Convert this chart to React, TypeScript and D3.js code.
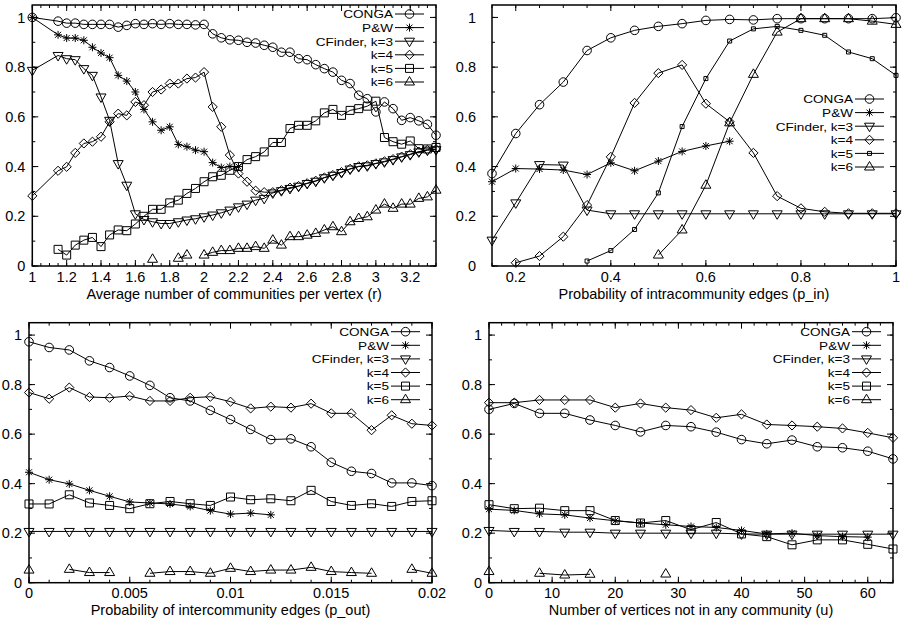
import React, { useEffect, useRef } from 'react';
import * as d3 from 'd3';

const seriesNames = ['CONGA', 'P&W', 'CFinder, k=3', 'k=4', 'k=5', 'k=6'];
const markerTypes = ['circle', 'star', 'triDown', 'diamond', 'square', 'triUp'];

const yTicks = [0, 0.2, 0.4, 0.6, 0.8, 1];
const yTickLabels = ['0', '0.2', '0.4', '0.6', '0.8', '1'];

// panel 1: average number of communities per vertex
const rValues = [1, 1.15, 1.2, 1.25, 1.3, 1.35, 1.4, 1.45, 1.5, 1.55, 1.6, 1.65, 1.7, 1.75, 1.8, 1.85,
  1.9, 1.95, 2.0, 2.05, 2.1, 2.15, 2.2, 2.25, 2.3, 2.35, 2.4, 2.45, 2.5, 2.55, 2.6, 2.65, 2.7, 2.75,
  2.8, 2.85, 2.9, 2.95, 3.0, 3.05, 3.1, 3.15, 3.2, 3.25, 3.3, 3.35];
const rConga = [1.0, 0.985, 0.977, 0.977, 0.972, 0.972, 0.972, 0.972, 0.961, 0.968, 0.975, 0.972, 0.975,
  0.972, 0.975, 0.972, 0.972, 0.97, 0.972, 0.934, 0.918, 0.91, 0.908, 0.9, 0.897, 0.888, 0.88, 0.86, 0.86,
  0.834, 0.83, 0.81, 0.794, 0.78, 0.747, 0.734, 0.687, 0.673, 0.62, 0.66, 0.633, 0.586, 0.597, 0.584, 0.57, 0.526];
const rPW = [1.0, 0.93, 0.917, 0.917, 0.908, 0.88, 0.857, 0.838, 0.767, 0.744, 0.7, 0.63, 0.58, 0.546, 0.56,
  0.489, 0.48, 0.466, 0.46, 0.416, 0.396, 0.4, 0.4, null, null, null, null, null, null, null, null, null, null,
  null, null, null, null, null, null, null, null, null, null, null, null, null];
const rK3 = [0.787, 0.847, 0.834, 0.83, 0.794, 0.767, 0.68, 0.586, 0.412, 0.325, 0.21, 0.187, 0.178, 0.171,
  0.171, 0.178, 0.185, 0.19, 0.198, 0.205, 0.214, 0.225, 0.238, 0.249, 0.265, 0.272, 0.294, 0.303, 0.312,
  0.321, 0.332, 0.341, 0.355, 0.365, 0.376, 0.39, 0.4, 0.403, 0.412, 0.419, 0.428, 0.439, 0.448, 0.459, 0.466, 0.468];
const rK4 = [0.282, 0.383, 0.399, 0.455, 0.493, 0.5, 0.52, 0.58, 0.613, 0.606, 0.66, 0.647, 0.7, 0.71, 0.734,
  0.734, 0.754, 0.758, 0.78, 0.64, 0.56, 0.446, 0.372, 0.339, 0.303, 0.297, 0.297, 0.305, 0.315, 0.322, 0.333,
  0.343, 0.356, 0.366, 0.378, 0.391, 0.401, 0.405, 0.413, 0.421, 0.43, 0.44, 0.45, 0.46, 0.467, 0.47];
const rK5 = [null, 0.067, 0.044, 0.084, 0.104, 0.115, 0.078, 0.125, 0.145, 0.142, 0.169, 0.2, 0.228, 0.228,
  0.254, 0.265, 0.292, 0.312, 0.339, 0.359, 0.365, 0.385, 0.4, 0.428, 0.44, 0.459, 0.497, 0.497, 0.553, 0.566,
  0.566, 0.584, 0.616, 0.63, 0.606, 0.626, 0.633, 0.643, 0.663, 0.517, 0.5, 0.49, 0.503, 0.472, 0.471, 0.477];
const rK6 = [null, null, null, null, null, null, null, null, null, null, null, null, 0.027, null, null, 0.031,
  0.044, null, 0.044, 0.055, 0.062, 0.062, 0.071, 0.071, 0.078, 0.071, 0.104, 0.084, 0.118, 0.118, 0.124,
  0.131, 0.145, 0.158, 0.138, 0.178, 0.191, 0.198, 0.225, 0.249, 0.232, 0.249, 0.249, 0.272, 0.278, 0.305];
const rTicks = [1, 1.2, 1.4, 1.6, 1.8, 2, 2.2, 2.4, 2.6, 2.8, 3, 3.2];
const rTickLabels = ['1', '1.2', '1.4', '1.6', '1.8', '2', '2.2', '2.4', '2.6', '2.8', '3', '3.2'];

// panel 2: probability of intracommunity edges
const pinValues = [0.15, 0.2, 0.25, 0.3, 0.35, 0.4, 0.45, 0.5, 0.55, 0.6, 0.65, 0.7, 0.75, 0.8, 0.85, 0.9, 0.95, 1.0];
const pinConga = [0.372, 0.533, 0.649, 0.74, 0.867, 0.918, 0.948, 0.964, 0.975, 0.988, 0.992, 0.99, 0.995,
  0.995, 0.995, 0.995, 0.995, 0.999];
const pinPW = [0.339, 0.392, 0.39, 0.386, 0.368, 0.415, 0.383, 0.422, 0.461, 0.483, 0.502, null, null, null,
  null, null, null, null];
const pinK3 = [0.104, 0.254, 0.408, 0.406, 0.225, 0.21, 0.21, 0.21, 0.21, 0.21, 0.21, 0.21, 0.21, 0.21,
  0.21, 0.21, 0.21, 0.21];
const pinK4 = [null, 0.013, 0.04, 0.118, 0.245, 0.439, 0.656, 0.776, 0.809, 0.653, 0.58, 0.455, 0.281,
  0.232, 0.218, 0.212, 0.212, 0.212];
const pinK5 = [null, null, null, null, 0.02, 0.062, 0.147, 0.294, 0.561, 0.754, 0.905, 0.954, 0.964, 0.948,
  0.928, 0.861, 0.834, 0.767];
const pinK6 = [null, null, null, null, null, null, null, 0.044, 0.145, 0.325, 0.576, 0.771, 0.941, 0.995,
  0.995, 0.995, 0.985, 0.972];
const pinTicks = [0.2, 0.4, 0.6, 0.8, 1];
const pinTickLabels = ['0.2', '0.4', '0.6', '0.8', '1'];

// panel 3: probability of intercommunity edges
const poutValues = [0, 0.001, 0.002, 0.003, 0.004, 0.005, 0.006, 0.007, 0.008, 0.009, 0.01, 0.011, 0.012,
  0.013, 0.014, 0.015, 0.016, 0.017, 0.018, 0.019, 0.02];
const poutConga = [0.973, 0.95, 0.94, 0.896, 0.869, 0.835, 0.797, 0.747, 0.734, 0.696, 0.659, 0.619, 0.578,
  0.581, 0.549, 0.486, 0.45, 0.441, 0.403, 0.403, 0.392];
const poutPW = [0.446, 0.416, 0.399, 0.373, 0.349, 0.326, 0.322, 0.318, 0.308, 0.291, 0.277, 0.281, 0.274,
  null, null, null, null, null, null, null, null];
const poutK3 = [0.207, 0.207, 0.207, 0.207, 0.207, 0.207, 0.207, 0.207, 0.207, 0.207, 0.207, 0.207, 0.207,
  0.207, 0.207, 0.207, 0.207, 0.207, 0.207, 0.207, 0.207];
const poutK4 = [0.768, 0.743, 0.788, 0.75, 0.747, 0.754, 0.734, 0.734, 0.747, 0.751, 0.731, 0.704, 0.711,
  0.707, 0.723, 0.684, 0.684, 0.616, 0.676, 0.642, 0.635];
const poutK5 = [0.318, 0.318, 0.355, 0.322, 0.312, 0.299, 0.319, 0.328, 0.319, 0.312, 0.346, 0.335, 0.339,
  0.331, 0.373, 0.328, 0.312, 0.319, 0.308, 0.328, 0.331];
const poutK6 = [0.051, null, 0.054, 0.041, 0.041, null, 0.038, 0.045, 0.045, 0.038, 0.058, 0.045, 0.051,
  0.051, 0.062, 0.045, 0.041, 0.038, null, 0.054, 0.038];
const poutTicks = [0, 0.005, 0.01, 0.015, 0.02];
const poutTickLabels = ['0', '0.005', '0.01', '0.015', '0.02'];

// panel 4: number of vertices not in any community
const uValues = [0, 4, 8, 12, 16, 20, 24, 28, 32, 36, 40, 44, 48, 52, 56, 60, 64];
const uConga = [0.7, 0.724, 0.684, 0.684, 0.657, 0.635, 0.609, 0.635, 0.63, 0.608, 0.578, 0.561, 0.576,
  0.549, 0.545, 0.531, 0.5];
const uPW = [0.297, 0.292, 0.278, 0.274, 0.261, 0.25, 0.241, 0.234, 0.227, 0.223, 0.211, 0.197, 0.2, 0.19,
  0.186, 0.184, null];
const uK3 = [0.211, 0.207, 0.207, 0.204, 0.204, 0.2, 0.2, 0.2, 0.2, 0.2, 0.197, 0.196, 0.196, 0.196, 0.196,
  0.196, 0.196];
const uK4 = [0.727, 0.727, 0.738, 0.738, 0.738, 0.707, 0.724, 0.707, 0.697, 0.666, 0.68, 0.639, 0.635, 0.63,
  0.623, 0.605, 0.585];
const uK5 = [0.315, 0.299, 0.301, 0.291, 0.291, 0.251, 0.241, 0.251, 0.214, 0.243, 0.197, 0.186, 0.153,
  0.173, 0.173, 0.155, 0.136];
const uK6 = [0.045, null, 0.038, 0.031, 0.034, null, null, 0.035, null, null, null, null, null, null, null,
  null, null];
const uTicks = [0, 10, 20, 30, 40, 50, 60];
const uTickLabels = ['0', '10', '20', '30', '40', '50', '60'];

const panels = [
  {
    xs: rValues, series: [rConga, rPW, rK3, rK4, rK5, rK6],
    xDomain: [1, 3.35], xTicks: rTicks, xTickLabels: rTickLabels, minorStep: 0.05,
    title: 'Average number of communities per vertex (r)',
    left: 32.3, right: 436, top: 5, bottom: 266, yLabelGap: 7, legendY: 14, smallSquare: false,
  },
  {
    xs: pinValues, series: [pinConga, pinPW, pinK3, pinK4, pinK5, pinK6],
    xDomain: [0.15, 1], xTicks: pinTicks, xTickLabels: pinTickLabels, minorStep: 0.05,
    title: 'Probability of intracommunity edges (p_in)',
    left: 492, right: 896, top: 5, bottom: 266, yLabelGap: 16, legendY: 99, smallSquare: true,
  },
  {
    xs: poutValues, series: [poutConga, poutPW, poutK3, poutK4, poutK5, poutK6],
    xDomain: [0, 0.02], xTicks: poutTicks, xTickLabels: poutTickLabels, minorStep: 0.001,
    title: 'Probability of intercommunity edges (p_out)',
    left: 29, right: 432, top: 322.7, bottom: 582.7, yLabelGap: 7, legendY: 331.7, smallSquare: false,
  },
  {
    xs: uValues, series: [uConga, uPW, uK3, uK4, uK5, uK6],
    xDomain: [0, 64], xTicks: uTicks, xTickLabels: uTickLabels, minorStep: 2,
    title: 'Number of vertices not in any community (u)',
    left: 489, right: 893, top: 322.7, bottom: 582.7, yLabelGap: 7, legendY: 331.7, smallSquare: false,
  },
];

const FONT = '"Liberation Sans", Arial, Helvetica, sans-serif';

function markerPath(type, small) {
  switch (type) {
    case 'circle':
      return 'M4.3,0A4.3,4.3 0 1,1 -4.3,0A4.3,4.3 0 1,1 4.3,0Z';
    case 'star':
      return 'M-4,0H4M0,-4V4M-3,-3L3,3M-3,3L3,-3';
    case 'triDown':
      return 'M-5,-3L5,-3L0,5.5Z';
    case 'triUp':
      return 'M-5,3L5,3L0,-5.5Z';
    case 'diamond':
      return 'M0,-4.6L4.6,0L0,4.6L-4.6,0Z';
    case 'square':
      return small ? 'M-2,-2H2V2H-2Z' : 'M-4,-4H4V4H-4Z';
    default:
      return '';
  }
}

function drawPanel(svg, p) {
  const x = d3.scaleLinear().domain(p.xDomain).range([p.left, p.right]);
  const y = d3.scaleLinear().domain([0, 1.05]).range([p.bottom, p.top]);
  const g = svg.append('g');

  // minor ticks, all four sides
  const xMinor = d3.range(p.xDomain[0], p.xDomain[1] + 1e-9, p.minorStep);
  const yMinor = d3.range(0, 1.0001, 0.1);
  const tickG = g.append('g').attr('stroke', '#000').attr('stroke-width', 1);
  xMinor.forEach((v) => {
    tickG.append('line').attr('x1', x(v)).attr('x2', x(v)).attr('y1', p.bottom).attr('y2', p.bottom - 3);
    tickG.append('line').attr('x1', x(v)).attr('x2', x(v)).attr('y1', p.top).attr('y2', p.top + 3);
  });
  yMinor.forEach((v) => {
    tickG.append('line').attr('x1', p.left).attr('x2', p.left + 3).attr('y1', y(v)).attr('y2', y(v));
    tickG.append('line').attr('x1', p.right).attr('x2', p.right - 3).attr('y1', y(v)).attr('y2', y(v));
  });
  p.xTicks.forEach((v) => {
    tickG.append('line').attr('x1', x(v)).attr('x2', x(v)).attr('y1', p.bottom).attr('y2', p.bottom - 6);
    tickG.append('line').attr('x1', x(v)).attr('x2', x(v)).attr('y1', p.top).attr('y2', p.top + 6);
  });
  yTicks.forEach((v) => {
    tickG.append('line').attr('x1', p.left).attr('x2', p.left + 6).attr('y1', y(v)).attr('y2', y(v));
    tickG.append('line').attr('x1', p.right).attr('x2', p.right - 6).attr('y1', y(v)).attr('y2', y(v));
  });

  // tick labels
  g.append('g')
    .selectAll('text')
    .data(p.xTicks)
    .enter()
    .append('text')
    .attr('x', (d) => x(d))
    .attr('y', p.bottom + 15.5)
    .attr('text-anchor', 'middle')
    .style('font-family', FONT)
    .style('font-size', '14.5px')
    .text((d, i) => p.xTickLabels[i]);

  g.append('g')
    .selectAll('text')
    .data(yTicks)
    .enter()
    .append('text')
    .attr('x', p.left - p.yLabelGap)
    .attr('y', (d) => y(d) + 5.2)
    .attr('text-anchor', 'end')
    .style('font-family', FONT)
    .style('font-size', '14.5px')
    .text((d, i) => yTickLabels[i]);

  g.append('text')
    .attr('x', (p.left + p.right) / 2)
    .attr('y', p.bottom + 32.5)
    .attr('text-anchor', 'middle')
    .style('font-family', FONT)
    .style('font-size', '14.5px')
    .text(p.title);

  // lines and markers
  p.series.forEach((vals, si) => {
    const pts = p.xs.map((xv, i) => ({ x: xv, v: vals[i] }));
    const line = d3
      .line()
      .defined((d) => d.v != null)
      .x((d) => x(d.x))
      .y((d) => y(d.v));
    g.append('path')
      .attr('d', line(pts))
      .attr('fill', 'none')
      .attr('stroke', '#000')
      .attr('stroke-width', 1);
    g.append('g')
      .selectAll('path')
      .data(pts.filter((d) => d.v != null))
      .enter()
      .append('path')
      .attr('transform', (d) => 'translate(' + x(d.x) + ',' + y(d.v) + ')')
      .attr('d', markerPath(markerTypes[si], p.smallSquare))
      .attr('fill', 'none')
      .attr('stroke', '#000')
      .attr('stroke-width', 1);
  });

  // legend (text widened a bit so it keeps the reference's size within the tight row spacing)
  const lg = g.append('g');
  seriesNames.forEach((name, i) => {
    const cy = p.legendY + i * 13.6;
    lg.append('text')
      .attr('transform', 'translate(' + (p.right - 43) + ',' + (cy + 4.3) + ') scale(1.15,1)')
      .attr('text-anchor', 'end')
      .style('font-family', FONT)
      .style('font-size', '11.8px')
      .text(name);
    lg.append('line')
      .attr('x1', p.right - 41)
      .attr('x2', p.right - 12)
      .attr('y1', cy)
      .attr('y2', cy)
      .attr('stroke', '#000');
    lg.append('path')
      .attr('transform', 'translate(' + (p.right - 26.5) + ',' + cy + ')')
      .attr('d', markerPath(markerTypes[i], p.smallSquare))
      .attr('fill', 'none')
      .attr('stroke', '#000');
  });

  // frame
  g.append('rect')
    .attr('x', p.left)
    .attr('y', p.top)
    .attr('width', p.right - p.left)
    .attr('height', p.bottom - p.top)
    .attr('fill', 'none')
    .attr('stroke', '#000')
    .attr('stroke-width', 1.5);
}

const App = () => {
  const chart = useRef(null);

  useEffect(() => {
    const svg = d3.select(chart.current);
    svg.selectAll('*').remove();
    panels.forEach((p) => drawPanel(svg, p));
  }, []);

  return (
    <svg
      ref={chart}
      width={902}
      height={619}
      style={{ position: 'absolute', left: 0, top: 0, background: '#fff' }}
    />
  );
};

export default App;
